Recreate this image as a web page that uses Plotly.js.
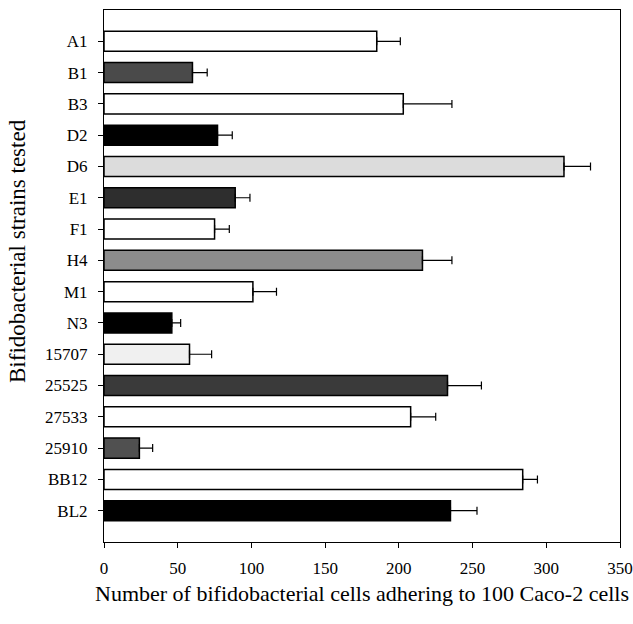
<!DOCTYPE html>
<html><head><meta charset="utf-8">
<script src="https://cdn.plot.ly/plotly-3.0.1.min.js"></script>
<style>body{margin:0;background:#fff}#c{width:633px;height:624px}</style>
</head><body><div id="c"></div>
<script>
const strains = ["A1","B1","B3","D2","D6","E1","F1","H4","M1","N3","15707","25525","27533","25910","BB12","BL2"];
const adhesion = [185,60,203,77,312,89,75,216,101,46,58,233,208,24,284,235];
const sdError = [16,10,33,10,18,10,10,20,16,6,15,23,17,9,10,18];
const fillColors = ["#ffffff","#4a4a4a","#ffffff","#000000","#dcdcdc","#2e2e2e","#ffffff","#8c8c8c","#ffffff","#000000","#f0f0f0","#3a3a3a","#ffffff","#505050","#ffffff","#000000"];
const xTicks = [0,50,100,150,200,250,300,350];
const zeros = strains.map(() => 0);

const FONT = '"Liberation Serif", "Times New Roman", serif';
Plotly.newPlot('c', [{
  type:'bar', orientation:'h',
  y: strains, x: adhesion,
  width: 0.64,
  marker:{color: fillColors, line:{color:'#000', width:1.5}},
  error_x:{type:'data', symmetric:false, array: sdError, arrayminus: zeros, visible:true, color:'#000', thickness:1.2, width:4}
}], {
  width:633, height:624,
  margin:{l:104, r:13, t:10, b:82},
  paper_bgcolor:'#fff', plot_bgcolor:'#fff',
  showlegend:false,
  font:{family:FONT, color:'#000', size:17},
  xaxis:{range:[0,350], tickvals:xTicks, ticks:'outside', ticklen:5, tickcolor:'#000',
    showline:true, linecolor:'#000', linewidth:1, mirror:true, showgrid:false, zeroline:false,
    tickfont:{size:17}, ticklabelstandoff:6, automargin:false,
    title:{text:'Number of bifidobacterial cells adhering to 100 Caco-2 cells', font:{size:22}, standoff:8}},
  yaxis:{type:'category', range:[16.0,-1.0], ticks:'outside', ticklen:5, tickcolor:'#000',
    showline:true, linecolor:'#000', linewidth:1, mirror:true, showgrid:false, zeroline:false,
    tickfont:{size:17}, ticklabelstandoff:7, automargin:false},
  annotations:[{text:'Bifidobacterial strains tested', textangle:-90, showarrow:false,
    xref:'paper', yref:'paper', x:(17-104)/516, y:(542-251)/532, xanchor:'center', yanchor:'middle',
    font:{size:23, family:FONT, color:'#000'}}]
}, {displayModeBar:false, staticPlot:true});
</script></body></html>
